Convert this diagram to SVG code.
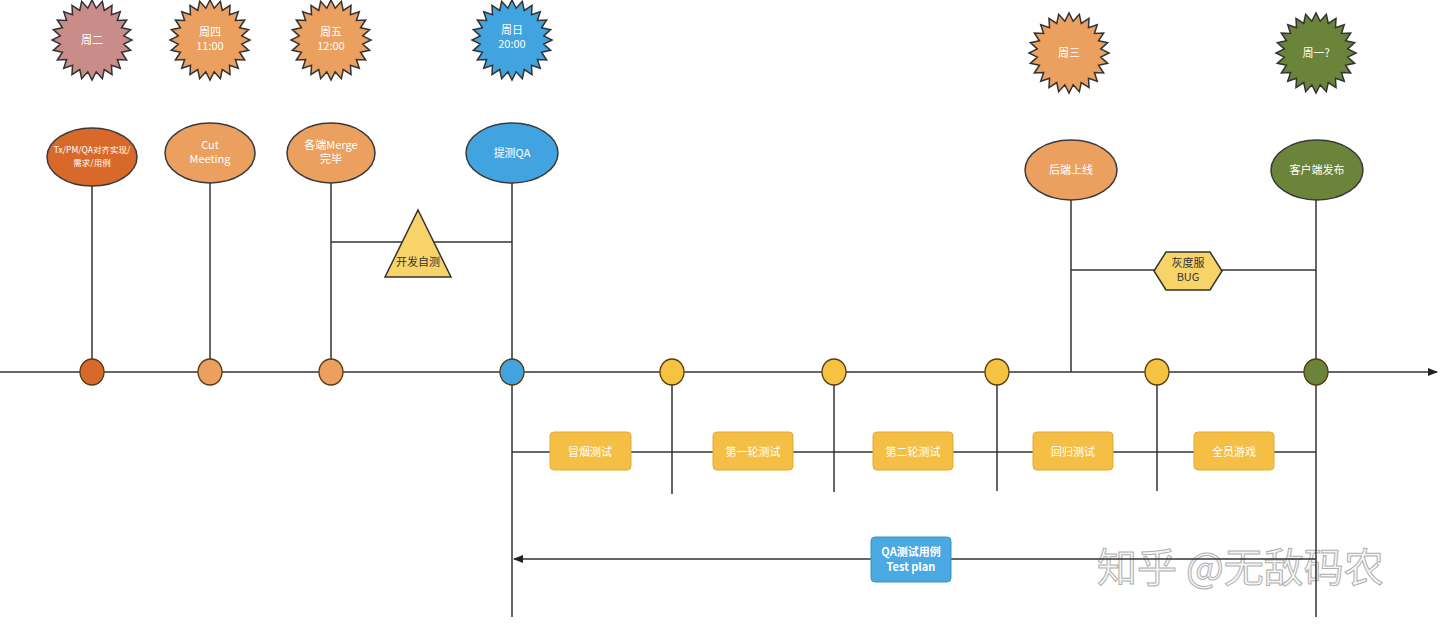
<svg xmlns="http://www.w3.org/2000/svg" width="1440" height="627" viewBox="0 0 1440 627">
<style>
.ln{stroke:#333;stroke-width:1.5;fill:none}
.sb{stroke:#333;stroke-width:1.5}
.el{stroke:#3a3a3a;stroke-width:1.5}
.t{font-family:"Noto Sans CJK SC","Liberation Sans",sans-serif;font-size:11px;text-anchor:middle;fill:#fff}
.td{font-family:"Noto Sans CJK SC","Liberation Sans",sans-serif;font-size:11px;text-anchor:middle;fill:#333}
.sm{font-size:8.5px}
.box{fill:#F5BE45;stroke:#E3AA35;stroke-width:1}
.dot{stroke:#5a3a10;stroke-width:1.3}
</style>
<defs>
<polygon id="star" points="40,0 31.73,4.18 38.64,10.35 29.56,12.25 34.64,20 25.39,19.48 28.28,28.28 19.48,25.39 20,34.64 12.25,29.56 10.35,38.64 4.18,31.73 0,40 -4.18,31.73 -10.35,38.64 -12.25,29.56 -20,34.64 -19.48,25.39 -28.28,28.28 -25.39,19.48 -34.64,20 -29.56,12.25 -38.64,10.35 -31.73,4.18 -40,0 -31.73,-4.18 -38.64,-10.35 -29.56,-12.25 -34.64,-20 -25.39,-19.48 -28.28,-28.28 -19.48,-25.39 -20,-34.64 -12.25,-29.56 -10.35,-38.64 -4.18,-31.73 0,-40 4.18,-31.73 10.35,-38.64 12.25,-29.56 20,-34.64 19.48,-25.39 28.28,-28.28 25.39,-19.48 34.64,-20 29.56,-12.25 38.64,-10.35 31.73,-4.18"/>
<marker id="arr" markerWidth="10" markerHeight="8" refX="9" refY="4" orient="auto" markerUnits="userSpaceOnUse">
<path d="M0,0 L10,4 L0,8 Z" fill="#222"/>
</marker>
</defs>
<rect width="1440" height="627" fill="#fff"/>

<text x="1097" y="582" font-family="Noto Sans CJK SC,sans-serif" font-size="40" fill="#f6f6f6" stroke="#b0b0b0" stroke-width="1">知乎 @无敌码农</text>

<g id="connectors">
<line class="ln" x1="0" y1="372" x2="1437" y2="372" marker-end="url(#arr)"/>
<line class="ln" x1="92" y1="185" x2="92" y2="372"/>
<line class="ln" x1="210" y1="183" x2="210" y2="372"/>
<line class="ln" x1="331" y1="183" x2="331" y2="372"/>
<line class="ln" x1="512" y1="183" x2="512" y2="617"/>
<line class="ln" x1="1071" y1="200" x2="1071" y2="372"/>
<line class="ln" x1="1316" y1="200" x2="1316" y2="617"/>
<line class="ln" x1="331" y1="242" x2="512" y2="242"/>
<line class="ln" x1="1071" y1="270" x2="1316" y2="270"/>
<line class="ln" x1="512" y1="452" x2="1316" y2="452"/>
<line class="ln" x1="672" y1="372" x2="672" y2="494"/>
<line class="ln" x1="834" y1="372" x2="834" y2="492"/>
<line class="ln" x1="997" y1="372" x2="997" y2="491"/>
<line class="ln" x1="1157" y1="372" x2="1157" y2="491"/>
<line class="ln" x1="1316" y1="559" x2="514" y2="559" marker-end="url(#arr)"/>
</g>

<g id="star-tue"><use href="#star" x="92" y="40" fill="#C98C88" class="sb"/><text class="t" x="92" y="44">周二</text></g>
<g id="star-thu"><use href="#star" x="210" y="40" fill="#EBA060" class="sb"/><text class="t" x="210" y="36">周四</text><text class="t" x="210" y="50">11:00</text></g>
<g id="star-fri"><use href="#star" x="331" y="40" fill="#EBA060" class="sb"/><text class="t" x="331" y="36">周五</text><text class="t" x="331" y="50">12:00</text></g>
<g id="star-sun"><use href="#star" x="512" y="40" fill="#41A4E0" class="sb"/><text class="t" x="512" y="34">周日</text><text class="t" x="512" y="48">20:00</text></g>
<g id="star-wed"><use href="#star" x="1069" y="53" fill="#EBA060" class="sb"/><text class="t" x="1069" y="57">周三</text></g>
<g id="star-mon"><use href="#star" x="1316" y="53" fill="#6A853A" class="sb"/><text class="t" x="1316" y="57">周一?</text></g>

<g id="e-align"><ellipse class="el" cx="92" cy="157" rx="45" ry="29" fill="#D8692A"/><text class="t sm" x="92" y="153">Tx/PM/QA对齐实现/</text><text class="t sm" x="92" y="166">需求/用例</text></g>
<g id="e-cut"><ellipse class="el" cx="210" cy="153" rx="45" ry="30" fill="#EBA060"/><text class="t" x="210" y="149">Cut</text><text class="t" x="210" y="163">Meeting</text></g>
<g id="e-merge"><ellipse class="el" cx="331" cy="153" rx="44" ry="30" fill="#EBA060"/><text class="t" x="331" y="149">各端Merge</text><text class="t" x="331" y="163">完毕</text></g>
<g id="e-qa"><ellipse class="el" cx="512" cy="153" rx="46" ry="30" fill="#41A4E0"/><text class="t" x="512" y="157">提测QA</text></g>
<g id="e-backend"><ellipse class="el" cx="1071" cy="170" rx="46" ry="30" fill="#EBA060"/><text class="t" x="1071" y="174">后端上线</text></g>
<g id="e-client"><ellipse class="el" cx="1317" cy="170" rx="46" ry="30" fill="#6A853A"/><text class="t" x="1317" y="174">客户端发布</text></g>

<g id="tri-selftest"><polygon points="418,210 451,277 385,277" fill="#F8D468" stroke="#333" stroke-width="1.5"/><text class="td" x="418" y="266">开发自测</text></g>
<g id="hex-gray"><polygon points="1166,252 1210,252 1222,271 1210,290 1166,290 1154,271" fill="#F8D468" stroke="#333" stroke-width="1.5"/><text class="td" x="1188" y="267">灰度服</text><text class="td" x="1188" y="281">BUG</text></g>

<g id="dots">
<ellipse class="dot" cx="92" cy="372" rx="12" ry="13" fill="#D8692A"/>
<ellipse class="dot" cx="210" cy="372" rx="12" ry="13" fill="#EBA060"/>
<ellipse class="dot" cx="331" cy="372" rx="12" ry="13" fill="#EBA060"/>
<ellipse class="dot" cx="512" cy="372" rx="12" ry="13" fill="#41A4E0" stroke="#1d4a70"/>
<ellipse class="dot" cx="672" cy="372" rx="12" ry="13" fill="#F5C242"/>
<ellipse class="dot" cx="834" cy="372" rx="12" ry="13" fill="#F5C242"/>
<ellipse class="dot" cx="997" cy="372" rx="12" ry="13" fill="#F5C242"/>
<ellipse class="dot" cx="1157" cy="372" rx="12" ry="13" fill="#F5C242"/>
<ellipse class="dot" cx="1316" cy="372" rx="12" ry="13" fill="#6A853A" stroke="#2f3d1a"/>
</g>

<g id="b-smoke"><rect class="box" x="550" y="432" width="81" height="38" rx="4"/><text class="t" x="590" y="456">冒烟测试</text></g>
<g id="b-round1"><rect class="box" x="713" y="432" width="80" height="38" rx="4"/><text class="t" x="753" y="456">第一轮测试</text></g>
<g id="b-round2"><rect class="box" x="873" y="432" width="80" height="38" rx="4"/><text class="t" x="913" y="456">第二轮测试</text></g>
<g id="b-regress"><rect class="box" x="1033" y="432" width="80" height="38" rx="4"/><text class="t" x="1073" y="456">回归测试</text></g>
<g id="b-all"><rect class="box" x="1194" y="432" width="80" height="38" rx="4"/><text class="t" x="1234" y="456">全员游戏</text></g>

<g id="b-testplan"><rect x="871" y="537" width="80" height="45" rx="4" fill="#4AA8E2" stroke="#3b93c9" stroke-width="1"/><text class="t" x="911" y="556" font-weight="bold">QA测试用例</text><text class="t" x="911" y="571" font-weight="bold">Test plan</text></g>
</svg>
